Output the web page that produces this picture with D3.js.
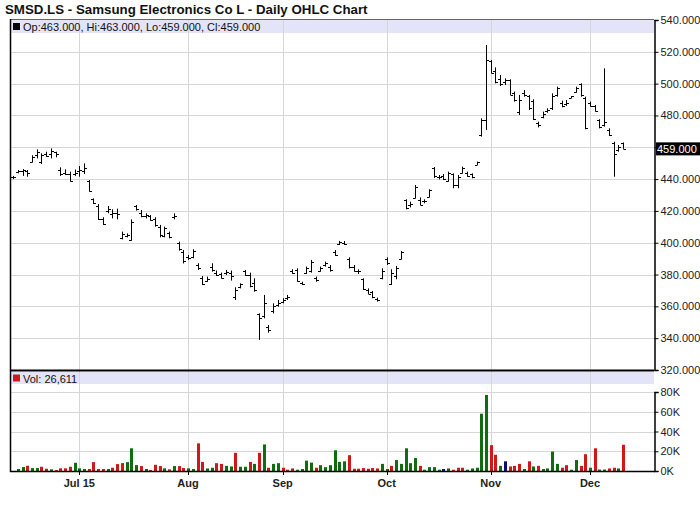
<!DOCTYPE html>
<html><head><meta charset="utf-8">
<script src="https://cdn.jsdelivr.net/npm/d3@7"></script>
<style>
body{margin:0;background:#fff}
svg{display:block}
text{font-family:Arial,"Liberation Sans",Helvetica,sans-serif}
</style>
</head><body>
<svg id="chart" width="700" height="512"></svg>
<script>
// ---------------- data ----------------
const firstDay = "2015-06-11";
const lastDay = "2015-12-10";
const holidays = ["2015-08-31"];
const monthLabels = ["Jul 15", "Aug", "Sep", "Oct", "Nov", "Dec"];
const priceTicks = [540, 520, 500, 480, 460, 440, 420, 400, 380, 360, 340, 320];
const volumeTicks = [0, 20000, 40000, 60000, 80000];

const openP = [441,444.5,445,445,451,455,451,456,456,457,446,444,443,443,445,445,439,427.5,423,415,
420,418,419,403,404.5,402,423,419,417,416.5,415,410,404,406,416,400,394,391,391,386,
378,376,385,381,380.5,381,381,366,372,382,380,375,355,354,347,357,361,362.5,365,382,
383,375,381,382,378,382,386,385,394,399.5,400,390,385,382,377,370.5,369,364.5,378,390,
374,379,390,427,424,428,427,426,429,447,441,442,439,443,436,444,444,443,449,468,
477,514,508,503,501,502,494,482,494,492,489,475,479,483,485,493,488,487,491,495,
500,491,488,486,477,474,471,463,458,463];
const highP = [442,445.7,446.3,445.7,455,458.7,456.2,457.2,459.3,457.2,447.4,446.1,444.7,446,448.2,449.9,439.4,427.9,424.3,416,
423.1,421,421.4,407,405.9,414.7,423.7,420.6,418.5,417.4,416,411.2,410.1,407,418.5,400.7,395.4,392.3,395.9,387.1,
379.1,378.7,387.1,382.5,381.2,382.9,382.5,372,374.5,382.9,381.2,377.6,355.6,367.2,348.3,361.9,364,365.1,367.2,383.3,
383.9,375.5,385,389.2,378.7,385,388.1,386,395.4,401.1,401.1,390.8,386,383.3,377.6,371.3,369.7,365.5,383.9,390.8,
383.3,385.4,394.8,427.3,425.8,436.3,428.5,427.3,433.6,447.6,442.6,443.2,444.7,443.6,442.6,447.8,444.7,443.6,451,478.2,
524.3,514.8,510.2,505.4,503.3,502.7,495,492.9,496,492.9,490.1,476.1,482.4,484.5,493.9,498.1,489.3,489.7,492.2,498.1,
500.2,491.8,488.7,486.6,477.6,509.6,471.9,463.5,461.4,463];
const lowP = [440,443.6,442,441.5,450.5,453,449.5,454,453,453.7,442,442.6,438.4,442,441.5,443.2,432.1,424.3,414.3,411.2,
418.5,415.3,414.7,402.1,403.4,401.3,420.2,416,415.3,413.9,410.1,403.4,403.4,402.8,414.7,395,387,389.2,390.2,382.9,
373.4,375.5,381.8,379.1,377.6,379.7,376.2,364,371.3,379.1,372,369.2,338.9,352.5,343.5,355.6,359.8,361.9,364,380.4,
375.5,373.4,380.4,381.2,375.5,381.8,385,381.8,391.7,398.6,398.6,383.9,381.8,380.4,370.3,367.8,365.1,363,377,386,
373.4,377,389.6,421,422.2,427.9,423.7,424.8,428.5,440.7,439.8,439.4,438.4,434.2,434.2,443.6,441.5,440.5,448.9,466.7,
470.9,506.5,500.2,498.5,499.1,492.9,488.7,480.3,491.8,483.4,477.1,472.5,478.2,481.7,483.4,491.8,485.1,486,490.8,494.3,
491.8,471.3,485.5,482.4,471.9,473,467.1,441.5,457.2,459];
const closeP = [441.5,445,445.5,444,454,457,455,454.5,457.5,456,443.5,443,439,444,446,447,432.5,425,415,412,
421,419,418,405.5,405,413,421,417,417.5,414.5,411,405,409,403.5,417,396,388.5,390.5,395,384,
374,377,383,380,378,381.5,379,370,374,380,373,370,353,362,345,360,362,364,366,381,
376,374,384,388,376.5,384,387,383,392,400.5,399.5,385,382.5,382,371,368,366,364,382,387,
381,384,394,422,424.5,435,424,426,433,442,441.5,440,444,436,441,447,442,441,450.5,477,
515,507,501,500,502,493,490,490,493,485,478,474,481,483.5,492,497,486,488,492,497,
493,472,486,483,473,476,468,456,460,459];

const volumeK = [0,2.0,4.0,5.3,3.0,3.0,4.3,2.3,1.7,1.0,2.7,2.7,4.3,8.3,2.7,2.0,2.0,9.0,2.0,2.0,
2.0,3.3,7.0,8.0,9.0,23.0,6.0,5.0,2.0,1.0,6.3,5.0,2.7,1.7,5.0,5.0,3.0,2.7,2.0,28.0,
9.2,2.6,3.3,7.9,7.2,5.2,4.6,18.4,4.3,4.3,9.2,7.2,18.4,26.9,3.3,7.2,7.9,3.3,1.3,2.6,
1.3,2.0,10.5,8.5,3.3,5.9,3.9,5.9,21.0,9.2,9.8,16.0,2.3,2.3,3.0,2.3,3.0,2.6,7.2,2.0,
5.2,11.1,7.2,23.0,7.9,13.1,5.2,1.3,3.9,3.9,1.3,2.0,2.6,1.3,3.3,3.3,1.3,2.6,3.3,58.0,
77.0,26.2,16.4,5.2,9.8,4.6,5.2,7.2,2.0,9.8,4.6,5.2,2.0,2.6,19.7,7.2,3.3,5.9,1.3,11.1,
5.2,17.0,3.3,23.0,1.5,1.5,2.6,3.3,2.6,26.611];
// 1 = up (green), -1 = down (red), 0 = unchanged (navy)
const volumeTrend = [1,1,1,-1,1,1,-1,-1,1,-1,-1,-1,-1,1,1,1,-1,-1,-1,-1,
1,-1,-1,-1,1,1,1,-1,1,-1,-1,-1,1,-1,1,-1,-1,1,1,-1,
-1,1,1,-1,-1,1,1,-1,1,1,-1,1,-1,1,-1,1,1,-1,-1,-1,
1,1,1,1,-1,1,1,1,1,1,1,-1,-1,-1,-1,-1,-1,-1,1,1,
-1,1,1,1,1,1,-1,1,1,1,1,0,1,-1,-1,-1,1,1,1,1,
1,-1,-1,1,0,-1,-1,-1,1,-1,1,-1,1,1,1,1,-1,-1,1,1,
-1,-1,1,-1,1,1,-1,-1,1,-1];

// ---------------- derived ----------------
const days = [];
{
  let d = new Date(firstDay + "T00:00:00Z");
  const end = new Date(lastDay + "T00:00:00Z");
  while (d <= end) {
    const s = d.toISOString().slice(0, 10);
    const w = d.getUTCDay();
    if (w !== 0 && w !== 6 && !holidays.includes(s)) days.push(s);
    d = new Date(d.getTime() + 864e5);
  }
}
const bars = days.map((d, i) => ({
  date: d, o: openP[i], h: highP[i], l: lowP[i], c: closeP[i],
  v: volumeK[i] * 1000, t: volumeTrend[i]
}));
const monthStarts = days.filter((d, i) => i > 0 && d.slice(5, 7) !== days[i - 1].slice(5, 7));

// ---------------- layout ----------------
const L = 10, R = 654;
const pTop = 20, pBot = 370, vTop = 371, vBot = 471;
const svg = d3.select("#chart");

const x = d3.scalePoint().domain(days).range([13.1, 623.1]);
const y = d3.scaleLinear().domain([320, 540]).range([pBot, pTop]);
const yv = d3.scaleLinear().domain([0, 80000]).range([vBot, 392]);

// title
svg.append("text").attr("x", 5).attr("y", 14)
  .attr("font-size", 13.3).attr("font-weight", "bold").attr("fill", "#111")
  .text("SMSD.LS - Samsung Electronics Co L - Daily OHLC Chart");

// header bands
svg.append("rect").attr("x", L).attr("y", pTop).attr("width", R - L).attr("height", 13).attr("fill", "#e4e4f8");
svg.append("rect").attr("x", L).attr("y", vTop + 1).attr("width", R - L).attr("height", 12).attr("fill", "#e4e4f8");

// grid
const grid = svg.append("g").attr("stroke", "#d6d6d6").attr("stroke-width", 1);
priceTicks.filter(t => t > 320 && t < 540).forEach(t => {
  grid.append("line").attr("x1", L).attr("x2", R).attr("y1", Math.round(y(t)) + 0.5).attr("y2", Math.round(y(t)) + 0.5);
});
volumeTicks.filter(t => t > 0).forEach(t => {
  grid.append("line").attr("x1", L).attr("x2", R).attr("y1", Math.round(yv(t)) + 0.5).attr("y2", Math.round(yv(t)) + 0.5);
});
monthStarts.forEach(d => {
  const xx = Math.round(x(d)) + 0.5;
  grid.append("line").attr("x1", xx).attr("x2", xx).attr("y1", pTop).attr("y2", pBot);
  grid.append("line").attr("x1", xx).attr("x2", xx).attr("y1", vTop).attr("y2", vBot);
});

// legends
svg.append("rect").attr("x", 13).attr("y", 23).attr("width", 7).attr("height", 7).attr("fill", "#000");
const last = bars[bars.length - 1];
const f3 = d3.format(".3f");
svg.append("text").attr("x", 23).attr("y", 31).attr("font-size", 11).attr("fill", "#111")
  .text(`Op:${f3(last.o)}, Hi:${f3(last.h)}, Lo:${f3(last.l)}, Cl:${f3(last.c)}`);
svg.append("rect").attr("x", 13).attr("y", 374.5).attr("width", 7).attr("height", 7).attr("fill", "#d01818");
svg.append("text").attr("x", 23).attr("y", 382.5).attr("font-size", 11).attr("fill", "#111")
  .text(`Vol: ${d3.format(",")(Math.round(last.v))}`);

// OHLC bars
const ohlc = svg.append("g").attr("stroke", "#000").attr("stroke-width", 1);
bars.forEach(b => {
  const xx = Math.round(x(b.date)) + 0.5;
  ohlc.append("line").attr("x1", xx).attr("x2", xx).attr("y1", y(b.h)).attr("y2", y(b.l));
  ohlc.append("line").attr("x1", xx - 2.5).attr("x2", xx).attr("y1", Math.round(y(b.o)) + 0.5).attr("y2", Math.round(y(b.o)) + 0.5);
  ohlc.append("line").attr("x1", xx).attr("x2", xx + 2.5).attr("y1", Math.round(y(b.c)) + 0.5).attr("y2", Math.round(y(b.c)) + 0.5);
});

// volume bars
const volColor = t => t > 0 ? "#0e6e0e" : (t < 0 ? "#d01818" : "#0a0a78");
svg.append("g").selectAll("rect").data(bars.filter(b => b.v > 0)).join("rect")
  .attr("x", b => Math.round(x(b.date)) - 1)
  .attr("width", 3)
  .attr("y", b => yv(b.v))
  .attr("height", b => vBot - yv(b.v))
  .attr("fill", b => volColor(b.t));

// frame lines
svg.append("line").attr("x1", L).attr("x2", R).attr("y1", pTop - 0.5).attr("y2", pTop - 0.5).attr("stroke", "#666").attr("stroke-width", 1);
svg.append("line").attr("x1", L).attr("x2", R).attr("y1", 370.5).attr("y2", 370.5).attr("stroke", "#000").attr("stroke-width", 2);
svg.append("line").attr("x1", L).attr("x2", R + 1).attr("y1", vBot + 0.5).attr("y2", vBot + 0.5).attr("stroke", "#000").attr("stroke-width", 1.5);
svg.append("line").attr("x1", L + 0.5).attr("x2", L + 0.5).attr("y1", pTop - 1).attr("y2", vBot + 1).attr("stroke", "#000").attr("stroke-width", 1.5);

const last_y = y(last.c);

// right price axis (label hidden where the last-close marker sits)
const pAxis = svg.append("g").attr("transform", `translate(${R + 0.5},0)`)
  .call(d3.axisRight(y).tickValues(priceTicks)
    .tickFormat(t => Math.abs(y(t) - last_y) < 12 ? "" : f3(t)).tickSize(4).tickPadding(2));
pAxis.select(".domain").attr("stroke", "#000").attr("stroke-width", 1.5);
pAxis.selectAll("text").attr("font-size", 11).attr("fill", "#222").attr("font-family", "Arial,'Liberation Sans',sans-serif");

// right volume axis
const vAxis = svg.append("g").attr("transform", `translate(${R + 0.5},0)`)
  .call(d3.axisRight(yv).tickValues(volumeTicks).tickFormat(v => (v / 1000) + "K").tickSize(4).tickPadding(2));
vAxis.select(".domain").attr("stroke", "#000").attr("stroke-width", 1.5);
vAxis.selectAll("text").attr("font-size", 11).attr("fill", "#222").attr("font-family", "Arial,'Liberation Sans',sans-serif");

// last close marker
svg.append("rect").attr("x", 656).attr("y", last_y - 6.5).attr("width", 44).attr("height", 13).attr("fill", "#000");
svg.append("text").attr("x", 657).attr("y", last_y + 4).attr("font-size", 11).attr("fill", "#fff").text(f3(last.c));

// bottom axis
const monthScale = d3.scaleOrdinal().domain(monthStarts).range(monthLabels);
const xAxis = svg.append("g").attr("transform", `translate(0,${vBot + 1})`)
  .call(d3.axisBottom(x).tickValues(monthStarts).tickFormat(d => monthScale(d)).tickSize(3).tickPadding(4).offset(0));
xAxis.select(".domain").remove();
xAxis.selectAll("line").attr("transform", d => `translate(${Math.round(x(d)) + 0.5 - x(d)},0)`).attr("stroke", "#000");
xAxis.selectAll("text").attr("font-size", 11).attr("font-weight", "bold").attr("fill", "#222").attr("font-family", "Arial,'Liberation Sans',sans-serif");
</script>
</body></html>
